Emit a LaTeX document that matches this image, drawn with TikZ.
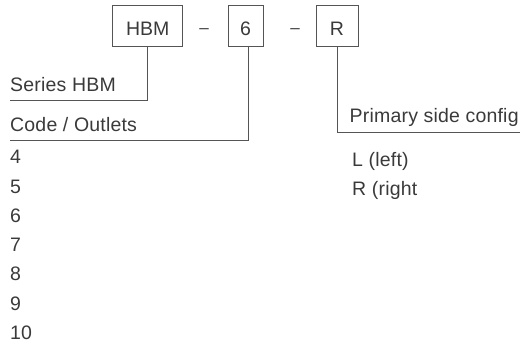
\documentclass[tikz,border=0pt]{standalone}
\usepackage{fontspec}
\setmainfont{Liberation Sans}
\newfontfamily\lblfont[LetterSpace=1]{Liberation Sans}
\definecolor{txtgray}{HTML}{3A3A3A}
\definecolor{linegray}{HTML}{555555}
\begin{document}
\begin{tikzpicture}[x=1pt,y=-1pt,
  codebox/.style={draw=linegray,line width=0.9pt,inner sep=0pt,minimum height=41.7pt,
    text height=20pt,text depth=0pt,font=\fontsize{19.5}{20}\selectfont,text=txtgray},
  sep/.style={anchor=base,inner sep=0pt,font=\fontsize{17}{18}\selectfont,text=txtgray},
  lbl/.style={anchor=base west,inner sep=0pt,font=\lblfont\fontsize{19.5}{21}\selectfont,text=txtgray},
  conn/.style={draw=linegray,line width=0.9pt}]
\useasboundingbox (0,0) rectangle (525,347);
% code boxes
\node[codebox,minimum width=70pt] (hbm) at (147.7,25.85) {HBM};
\node[codebox,minimum width=35pt] (six) at (245.5,25.85) {6};
\node[codebox,minimum width=42pt] (r) at (337,25.85) {R};
\node[sep] (d1) at (204,33.5) {–};
\node[sep] (d2) at (295,33.5) {–};
% headings
\node[lbl] (series) at (10,91.5) {Series HBM};
\node[lbl] (code) at (10,131.5) {Code / Outlets};
\node[lbl] (primary) at (349.5,123) {Primary side config};
% connector ends
\coordinate (c1) at (10,100);
\coordinate (c2) at (10,140);
\coordinate (c3) at (520,132);
\draw[conn] (hbm.south) |- (c1);
\draw[conn] ([xshift=3pt]six.south) |- (c2);
\draw[conn] (r.south) |- (c3);
% outlet list
\node[lbl] (o4) at (10,164) {4};
\node[lbl] (o5) at (10,193.25) {5};
\node[lbl] (o6) at (10,222.5) {6};
\node[lbl] (o7) at (10,251.75) {7};
\node[lbl] (o8) at (10,281) {8};
\node[lbl] (o9) at (10,310.25) {9};
\node[lbl] (o10) at (10,339.5) {10};
% side list
\node[lbl] (left) at (352,166.5) {L (left)};
\node[lbl] (right) at (352,195.5) {R (right};
\end{tikzpicture}
\end{document}
